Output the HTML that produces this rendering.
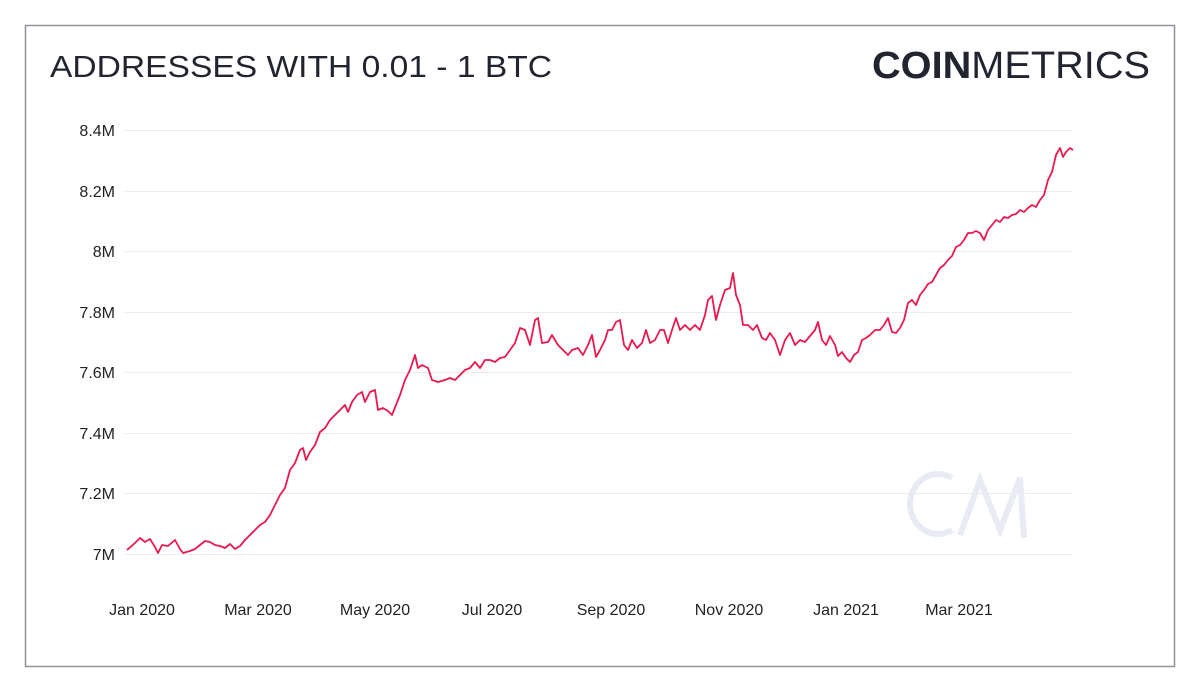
<!DOCTYPE html>
<html><head><meta charset="utf-8"><style>
body{margin:0;background:#fff;width:1200px;height:692px;overflow:hidden;font-family:"Liberation Sans",sans-serif}
</style></head><body>
<svg width="1200" height="692" xmlns="http://www.w3.org/2000/svg" font-family="Liberation Sans, sans-serif">
<rect x="25.5" y="25.5" width="1149" height="641" fill="#fff" stroke="#8f9299" stroke-width="1.5"/>
<text x="50" y="77" font-size="31" fill="#22242f" textLength="502" lengthAdjust="spacingAndGlyphs">ADDRESSES WITH 0.01 - 1 BTC</text>
<text x="872" y="78" font-size="38" fill="#22242f" textLength="278" lengthAdjust="spacingAndGlyphs"><tspan font-weight="bold">COIN</tspan><tspan font-weight="normal">METRICS</tspan></text>
<g stroke="#ebebeb" stroke-width="1">
<line x1="125" x2="1073" y1="130.5" y2="130.5"/><line x1="125" x2="1073" y1="191.5" y2="191.5"/>
<line x1="125" x2="1073" y1="251.5" y2="251.5"/><line x1="125" x2="1073" y1="312.5" y2="312.5"/>
<line x1="125" x2="1073" y1="372.5" y2="372.5"/><line x1="125" x2="1073" y1="433.5" y2="433.5"/>
<line x1="125" x2="1073" y1="493.5" y2="493.5"/><line x1="125" x2="1073" y1="554.5" y2="554.5"/>
</g>
<g fill="none" stroke="#e8ebf3" stroke-width="6">
<path d="M952 478 A28 30 0 1 0 952 530"/>
<path d="M960 535 L980 480 L1000 530 L1020 478 L1024 538"/>
</g>
<g font-size="16" fill="#222" text-anchor="end">
<text x="115" y="136">8.4M</text><text x="115" y="197">8.2M</text><text x="115" y="257">8M</text>
<text x="115" y="318">7.8M</text><text x="115" y="378">7.6M</text><text x="115" y="439">7.4M</text>
<text x="115" y="499">7.2M</text><text x="115" y="560">7M</text>
</g>
<g font-size="16" fill="#222" text-anchor="middle">
<text x="142" y="615">Jan 2020</text><text x="258" y="615">Mar 2020</text><text x="375" y="615">May 2020</text>
<text x="492" y="615">Jul 2020</text><text x="611" y="615">Sep 2020</text><text x="729" y="615">Nov 2020</text>
<text x="846" y="615">Jan 2021</text><text x="959" y="615">Mar 2021</text>
</g>
<polyline fill="none" stroke="#e8194f" stroke-width="1.8" stroke-linejoin="round" points="127,550 135,543 140,538 145,542 150,539 155,547 158,553 162,545 168,546 175,540 180,549 183,553 190,551 195,549 200,545 205,541 210,542 215,545 220,546 225,548 230,544 235,549 240,546 245,540 250,535 255,530 260,525 265,522 270,515 275,505 280,495 285,488 290,470 295,463 300,450 303,448 306,460 310,452 315,445 320,432 325,428 330,420 335,415 340,410 345,405 348,412 352,402 357,395 362,392 365,402 370,392 375,390 378,410 383,408 388,411 392,415 396,405 400,395 405,380 410,370 415,355 418,368 422,365 428,368 432,380 438,382 445,380 450,378 455,380 460,375 465,370 470,368 475,362 480,368 485,360 490,360 495,362 500,358 505,357 510,350 515,343 520,328 525,330 530,345 535,320 538,318 542,343 548,342 552,335 558,345 563,350 568,355 572,350 578,348 583,355 588,345 592,335 596,357 600,350 605,340 608,330 612,330 616,322 620,320 624,345 628,350 632,340 637,348 642,343 646,330 650,343 655,340 660,330 664,330 668,343 672,330 676,318 680,330 685,325 690,330 695,325 700,330 705,315 708,300 712,296 716,320 720,305 725,290 730,288 733,273 736,295 740,305 743,325 748,325 753,330 757,325 762,338 766,340 770,333 775,340 780,355 785,340 790,333 795,345 800,340 805,342 810,336 815,330 818,322 822,340 826,345 830,336 835,345 838,356 842,352 846,358 850,362 854,355 858,352 862,340 866,338 870,335 875,330 880,330 884,325 888,318 892,332 896,333 900,328 904,320 908,303 912,300 916,305 920,295 924,290 928,284 932,282 936,275 940,268 944,265 948,260 952,256 956,247 960,245 964,240 968,233 972,233 976,231 980,233 984,240 988,230 992,225 996,220 1000,222 1004,217 1008,218 1012,215 1016,214 1020,210 1024,212 1028,208 1032,205 1036,207 1040,200 1044,195 1048,180 1052,172 1056,155 1060,148 1063,157 1066,152 1070,148 1073,150"/>
</svg>
</body></html>
